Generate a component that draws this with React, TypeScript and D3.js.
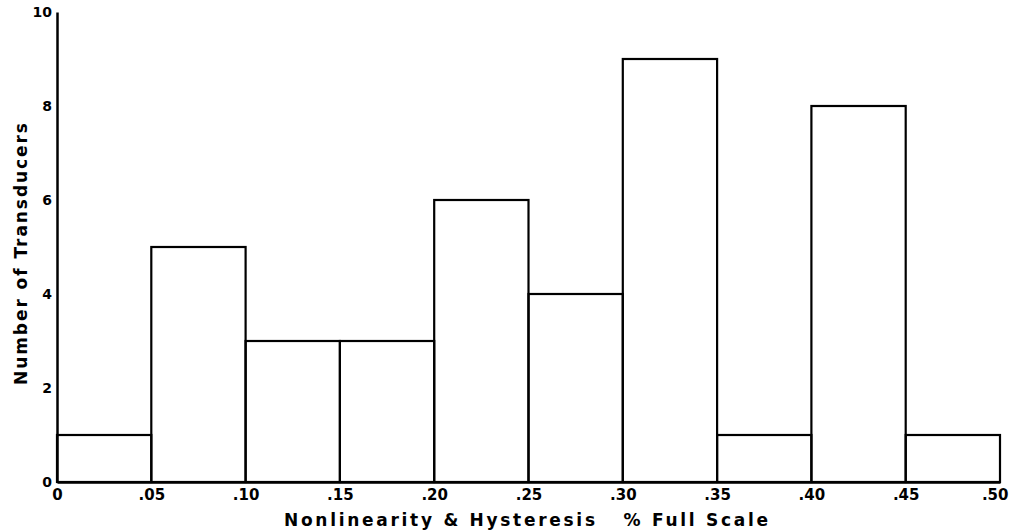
import React, { useEffect, useRef } from 'react';
import * as d3 from 'd3';

// bin edges (% full scale) and counts per bin
const binStarts = [0, 0.05, 0.1, 0.15, 0.2, 0.25, 0.3, 0.35, 0.4, 0.45];
const binWidth = 0.05;
const counts = [1, 5, 3, 3, 6, 4, 9, 1, 8, 1];
const xTicks = [0, 0.05, 0.1, 0.15, 0.2, 0.25, 0.3, 0.35, 0.4, 0.45, 0.5];
const xTickLabels = ['0', '.05', '.10', '.15', '.20', '.25', '.30', '.35', '.40', '.45', '.50'];
const yTicks = [0, 2, 4, 6, 8, 10];

const App = () => {
    const svgRef = useRef<SVGSVGElement>(null);

    useEffect(() => {
        const svg = d3.select(svgRef.current);
        svg.selectAll('*').remove();

        const width = 1009;
        const height = 531;
        const margin = { top: 12, right: 9, bottom: 49, left: 57 };
        const innerW = width - margin.left - margin.right;
        const innerH = height - margin.top - margin.bottom;

        const chart = svg.append('g')
            .attr('transform', `translate(${margin.left},${margin.top})`);

        const x = d3.scaleLinear().domain([0, 0.5]).range([0, innerW]);
        const y = d3.scaleLinear().domain([0, 10]).range([innerH, 0]);

        const font = "'DejaVu Sans', 'Liberation Sans', sans-serif";

        // bars
        chart.append('g')
            .selectAll('rect')
            .data(binStarts.map((s, i) => ({ s, c: counts[i] })))
            .join('rect')
            .attr('x', (d) => x(d.s))
            .attr('y', (d) => y(d.c))
            .attr('width', (d) => x(d.s + binWidth) - x(d.s))
            .attr('height', (d) => y(0) - y(d.c))
            .attr('fill', 'none')
            .attr('stroke', '#000')
            .attr('stroke-width', 2.2);

        // x axis
        const xAxis = chart.append('g')
            .attr('transform', `translate(0,${innerH})`)
            .call(d3.axisBottom(x).tickValues(xTicks).tickSize(0).tickPadding(7)
                .tickFormat((d, i) => xTickLabels[i]));
        xAxis.select('.domain').attr('stroke', '#000').attr('stroke-width', 2.5);
        xAxis.selectAll('text')
            .attr('font-family', font)
            .attr('font-weight', 'bold')
            .attr('font-size', 15)
            .attr('fill', '#000');
        xAxis.selectAll('.tick')
            .filter((d) => d === 0.5)
            .select('text')
            .attr('text-anchor', 'end')
            .attr('dx', 8);

        // y axis
        const yAxis = chart.append('g')
            .call(d3.axisLeft(y).tickValues(yTicks).tickSize(0).tickPadding(5)
                .tickFormat(d3.format('d')));
        yAxis.select('.domain').attr('stroke', '#000').attr('stroke-width', 2.5);
        yAxis.selectAll('text')
            .attr('font-family', font)
            .attr('font-weight', 'bold')
            .attr('font-size', 14)
            .attr('fill', '#000');

        // x-axis label
        svg.append('text')
            .attr('x', 284)
            .attr('y', 526)
            .attr('font-family', font)
            .attr('font-weight', 'bold')
            .attr('font-size', 17)
            .attr('fill', '#000')
            .attr('textLength', 484)
            .attr('lengthAdjust', 'spacing')
            .style('white-space', 'pre')
            .text('Nonlinearity & Hysteresis   % Full Scale');

        // y-axis label
        svg.append('text')
            .attr('transform', 'translate(27,385) rotate(-90)')
            .attr('font-family', font)
            .attr('font-weight', 'bold')
            .attr('font-size', 17)
            .attr('fill', '#000')
            .attr('textLength', 262)
            .attr('lengthAdjust', 'spacing')
            .text('Number of Transducers');
    }, []);

    return (
        <svg ref={svgRef} width={1009} height={531}
            style={{ position: 'absolute', left: 0, top: 0, background: '#fff' }} />
    );
};

export default App;
